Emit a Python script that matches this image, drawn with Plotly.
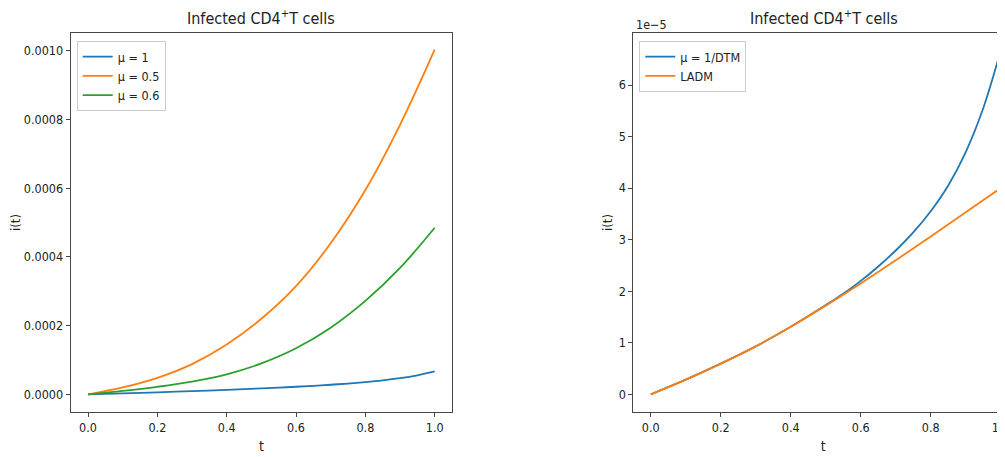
import plotly.graph_objects as go

# ---- data ----
t_grid = [0.0, 0.1, 0.2, 0.3, 0.4, 0.5, 0.6, 0.7, 0.8, 0.9, 1.0]
mu05_vals = [0, 0.20e-4, 0.48e-4, 0.88e-4, 1.45e-4, 2.20e-4, 3.15e-4, 4.40e-4, 5.95e-4, 7.85e-4, 10.04e-4]
mu06_vals = [0, 0.10e-4, 0.22e-4, 0.37e-4, 0.58e-4, 0.90e-4, 1.34e-4, 1.94e-4, 2.72e-4, 3.68e-4, 4.85e-4]

t_fine = [0.0, 0.1, 0.2, 0.3, 0.4, 0.5, 0.55, 0.6, 0.65, 0.7, 0.75, 0.8, 0.85, 0.9, 0.95, 1.0]
mu1_vals = [0, 0.285e-5, 0.595e-5, 0.93e-5, 1.31e-5, 1.73e-5, 1.95e-5, 2.20e-5, 2.48e-5, 2.79e-5, 3.14e-5,
            3.55e-5, 4.05e-5, 4.70e-5, 5.55e-5, 6.67e-5]
dtm_vals = mu1_vals
ladm_vals = [0, 0.285e-5, 0.595e-5, 0.93e-5, 1.31e-5, 1.72e-5, 2.15e-5, 2.60e-5, 3.06e-5, 3.53e-5, 4.00e-5]

left_names = ["μ = 1", "μ = 0.5", "μ = 0.6"]
right_names = ["μ = 1/DTM", "LADM"]
title_text = "Infected CD4<sup>+</sup>T cells"
x_ticks = [0.0, 0.2, 0.4, 0.6, 0.8, 1.0]
left_y_ticks = [0.0, 0.0002, 0.0004, 0.0006, 0.0008, 0.0010]
right_y_ticks = [0, 1e-5, 2e-5, 3e-5, 4e-5, 5e-5, 6e-5]
right_y_labels = ["0", "1", "2", "3", "4", "5", "6"]

BLUE, ORANGE, GREEN = "#1f77b4", "#ff7f0e", "#2ca02c"
FONT = "DejaVu Sans Condensed, DejaVu Sans, sans-serif"
W, H = 1005, 457
OFF = 8  # page body margin offset

fig = go.Figure()
lw = 1.8
fig.add_trace(go.Scatter(x=t_fine, y=mu1_vals, mode="lines", name=left_names[0],
                         line=dict(color=BLUE, width=lw, shape="spline"), xaxis="x", yaxis="y", legend="legend"))
fig.add_trace(go.Scatter(x=t_grid, y=mu05_vals, mode="lines", name=left_names[1],
                         line=dict(color=ORANGE, width=lw, shape="spline"), xaxis="x", yaxis="y", legend="legend"))
fig.add_trace(go.Scatter(x=t_grid, y=mu06_vals, mode="lines", name=left_names[2],
                         line=dict(color=GREEN, width=lw, shape="spline"), xaxis="x", yaxis="y", legend="legend"))
fig.add_trace(go.Scatter(x=t_fine, y=dtm_vals, mode="lines", name=right_names[0],
                         line=dict(color=BLUE, width=lw, shape="spline"), xaxis="x2", yaxis="y2", legend="legend2"))
fig.add_trace(go.Scatter(x=t_grid, y=ladm_vals, mode="lines", name=right_names[1],
                         line=dict(color=ORANGE, width=lw, shape="spline"), xaxis="x2", yaxis="y2", legend="legend2"))

spine = "rgb(70,70,70)"
tickfont = dict(family=FONT, size=12.5, color="#222")
common = dict(showgrid=False, zeroline=False, showline=True, linecolor=spine, linewidth=1,
              ticks="outside", ticklen=4, tickcolor=spine, tickfont=tickfont)


def px_x(v):
    return (v - OFF) / W


def px_y(v):
    return 1 - (v - OFF) / H


y_dom = [px_y(411.7), px_y(33.3)]
fig.update_layout(
    width=W, height=H, margin=dict(l=0, r=0, t=0, b=0),
    paper_bgcolor="white", plot_bgcolor="white",
    font=dict(family=FONT, size=12.5, color="#222"),
    xaxis=dict(domain=[px_x(70.7), px_x(452)], range=[-0.05, 1.05], tickvals=x_ticks,
               tickformat=".1f", mirror=True, anchor="y",
               title=dict(text="t", font=dict(family=FONT, size=14), standoff=7), **common),
    yaxis=dict(domain=y_dom, range=[-5.06e-5, 1.0515e-3], tickvals=left_y_ticks,
               tickformat=".4f", mirror=True, anchor="x",
               title=dict(text="i(t)", font=dict(family=FONT, size=13), standoff=7), **common),
    xaxis2=dict(domain=[px_x(633.3), 1.0], range=[-0.05, 1.0351], tickvals=x_ticks,
                tickformat=".1f", mirror=True, anchor="y2",
                title=dict(text="t", font=dict(family=FONT, size=14), standoff=7), **common),
    yaxis2=dict(domain=y_dom, range=[-0.3375e-5, 7.003e-5], tickvals=right_y_ticks,
                ticktext=right_y_labels, mirror=False, anchor="x2",
                title=dict(text="i(t)", font=dict(family=FONT, size=13), standoff=3), **common),
    legend=dict(x=px_x(76.7), y=px_y(41), xanchor="left", yanchor="top",
                bgcolor="rgba(255,255,255,0.8)", bordercolor="#cccccc", borderwidth=1,
                font=dict(family=FONT, size=12.5), itemwidth=30, tracegroupgap=0),
    legend2=dict(x=px_x(639.3), y=px_y(41), xanchor="left", yanchor="top",
                 bgcolor="rgba(255,255,255,0.8)", bordercolor="#cccccc", borderwidth=1,
                 font=dict(family=FONT, size=12.5), itemwidth=30, tracegroupgap=0),
    annotations=[
        dict(text=title_text, x=px_x((70.7 + 452) / 2), y=px_y(17), xref="paper", yref="paper",
             showarrow=False, font=dict(family=FONT, size=16, color="#222"), xanchor="center", yanchor="middle"),
        dict(text=title_text, x=px_x((633.3 + 1015) / 2), y=px_y(17), xref="paper", yref="paper",
             showarrow=False, font=dict(family=FONT, size=16, color="#222"), xanchor="center", yanchor="middle"),
        dict(text="1e−5", x=px_x(634), y=px_y(24), xref="paper", yref="paper",
             showarrow=False, font=dict(family=FONT, size=12.5, color="#222"), xanchor="left", yanchor="middle"),
    ],
)

fig.write_html("out.html")
